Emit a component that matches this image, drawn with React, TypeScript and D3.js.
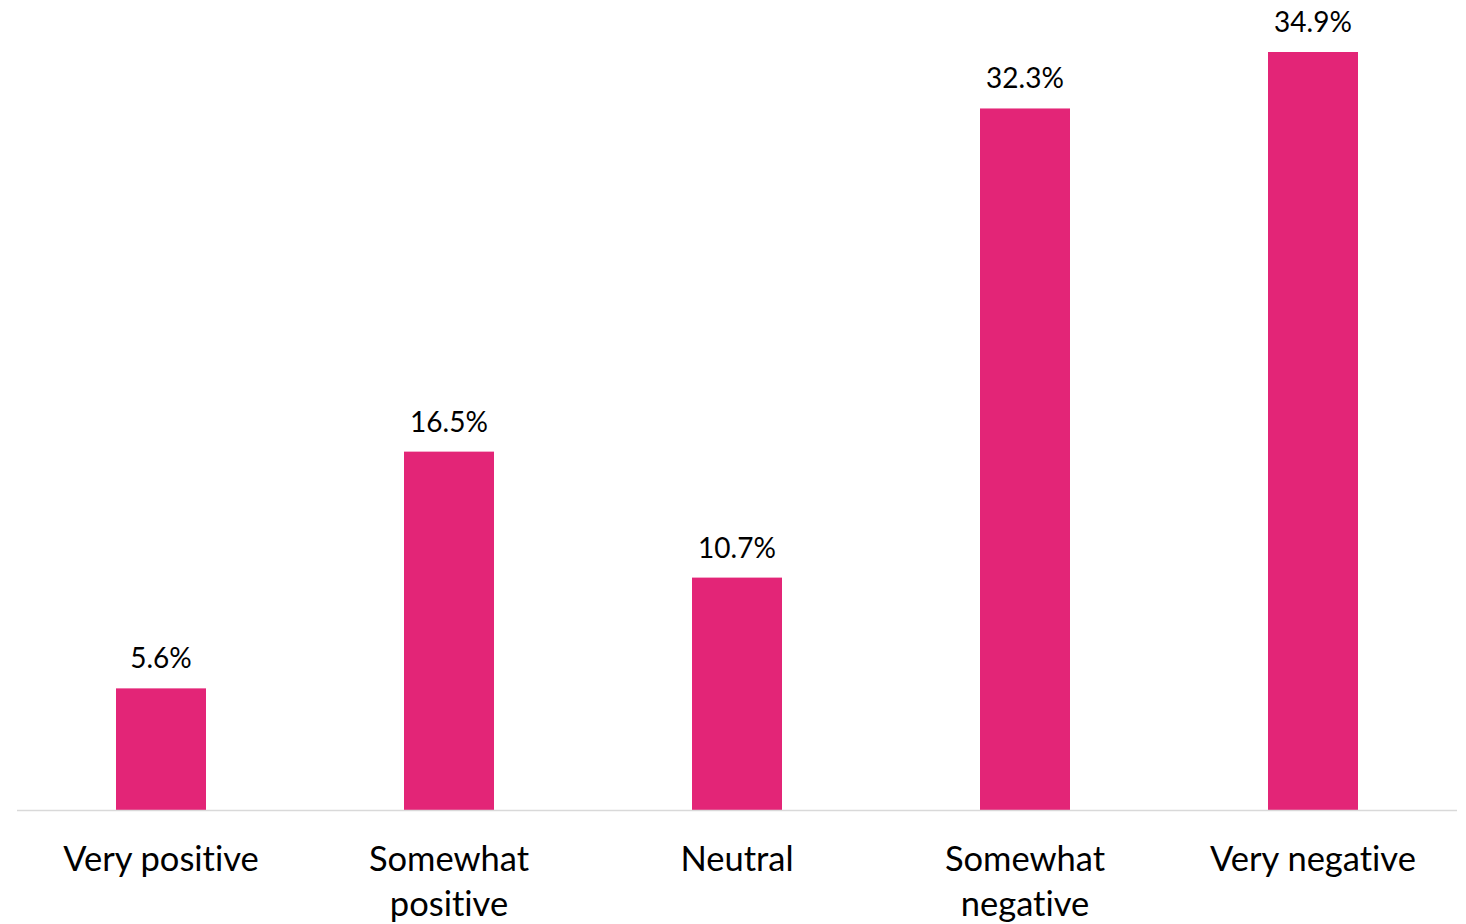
import React from "react";
import * as d3 from "d3";

const categories: string[][] = [
  ["Very positive"],
  ["Somewhat", "positive"],
  ["Neutral"],
  ["Somewhat", "negative"],
  ["Very negative"],
];
const values: number[] = [5.6, 16.5, 10.7, 32.3, 34.9];
const valueLabels: string[] = ["5.6%", "16.5%", "10.7%", "32.3%", "34.9%"];

const W = 1466;
const H = 924;
const FONT = "Lato, 'Open Sans', sans-serif";

export default function App() {
  const keys = categories.map((c) => c.join(" "));
  const x = d3.scaleBand<string>().domain(keys).range([17, 1457]).paddingInner(0.6875).paddingOuter(0.34375);
  const y = d3.scaleLinear().domain([0, 34.9]).range([810, 52]);
  const bw = x.bandwidth();
  const noLig = { fontVariantLigatures: "none" as const };
  return (
    <svg width={W} height={H} style={{ position: "absolute", left: 0, top: 0, background: "#fff" }}>
      {values.map((v, i) => (
        <rect key={i} x={x(keys[i])!} y={y(v)} width={bw} height={y(0) - y(v)} fill="#E32577" />
      ))}
      <line x1={17} x2={1457} y1={y(0) + 0.5} y2={y(0) + 0.5} stroke="#D9D9D9" strokeWidth={1.5} />
      {values.map((v, i) => (
        <text key={"v" + i} x={x(keys[i])! + bw / 2} y={y(v) - 20} textAnchor="middle" fontFamily={FONT} fontSize={28} fill="#000" style={noLig}>
          {valueLabels[i]}
        </text>
      ))}
      {categories.map((lines, i) => (
        <text key={"c" + i} x={x(keys[i])! + bw / 2} y={871} textAnchor="middle" fontFamily={FONT} fontSize={34.5} fill="#000" style={noLig}>
          {lines.map((l, j) => (
            <tspan key={j} x={x(keys[i])! + bw / 2} dy={j === 0 ? 0 : 45}>
              {l}
            </tspan>
          ))}
        </text>
      ))}
    </svg>
  );
}
